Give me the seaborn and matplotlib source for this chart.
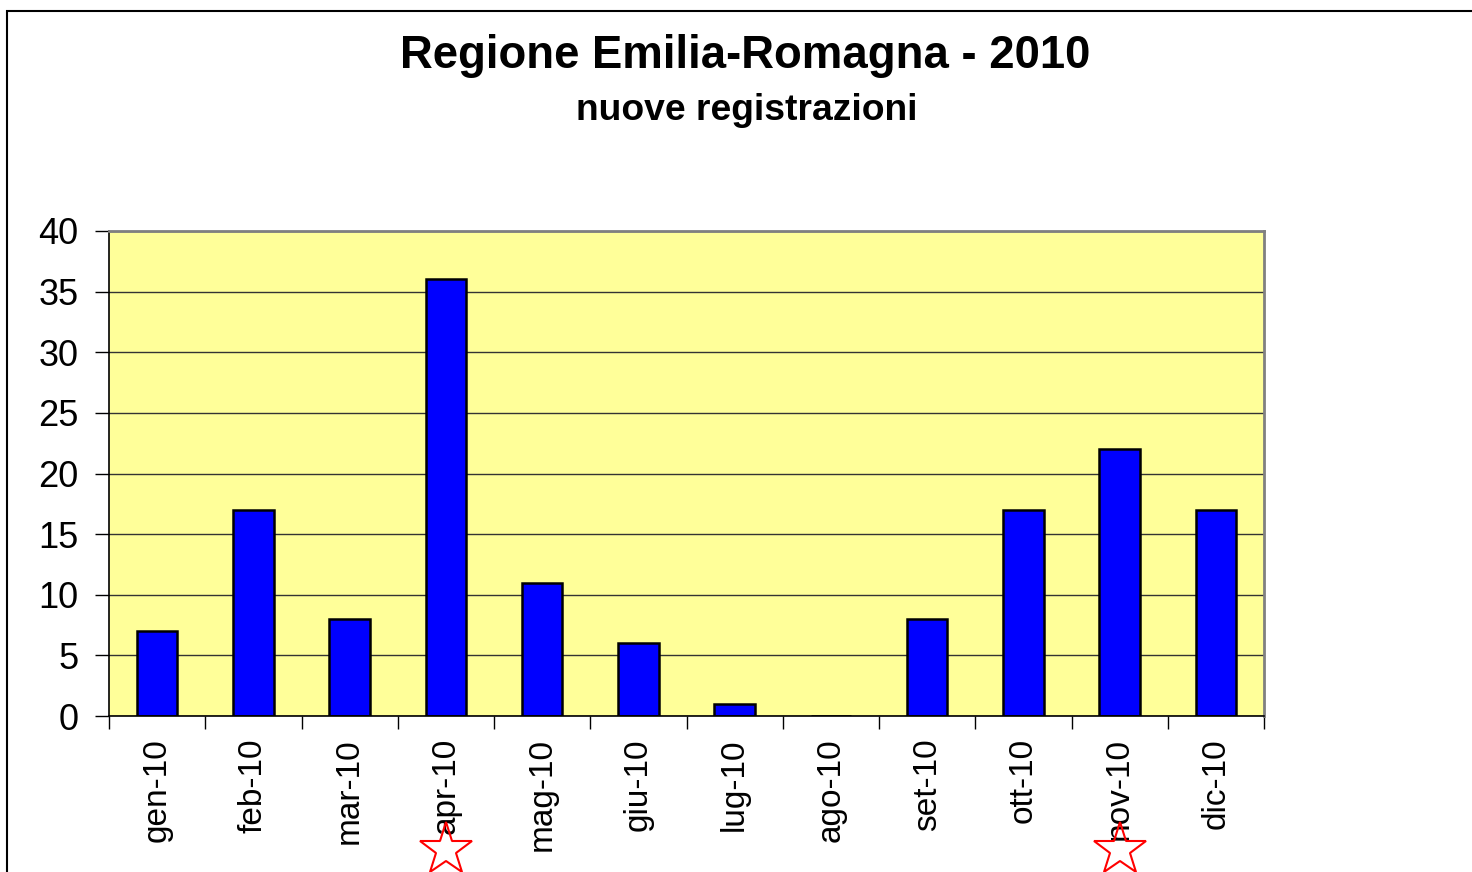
import matplotlib
matplotlib.use("Agg")
import matplotlib.pyplot as plt
import seaborn as sns
import pandas as pd
from matplotlib.patches import Rectangle
from matplotlib.transforms import blended_transform_factory

months = ["gen-10", "feb-10", "mar-10", "apr-10", "mag-10", "giu-10",
          "lug-10", "ago-10", "set-10", "ott-10", "nov-10", "dic-10"]
values = [7, 17, 8, 36, 11, 6, 1, 0, 8, 17, 22, 17]
y_ticks = [0, 5, 10, 15, 20, 25, 30, 35, 40]
starred = ["apr-10", "nov-10"]
title = "Regione Emilia-Romagna - 2010"
subtitle = "nuove registrazioni"

sns.set_theme(style="white")
plt.rcParams["font.family"] = ["Liberation Sans", "DejaVu Sans"]
plt.rcParams["text.color"] = "black"
plt.rcParams["xtick.color"] = "black"
plt.rcParams["ytick.color"] = "black"

fig = plt.figure(figsize=(14.72, 8.72), dpi=100)
ax = fig.add_axes([109/1472, 1-716/872, (1264-109)/1472, (716-231)/872])
ax.set_facecolor("#FFFF99")

df = pd.DataFrame({"mese": months, "n": values})
sns.barplot(data=df, x="mese", y="n", ax=ax, color="#0000FF",
            edgecolor="black", linewidth=1.8, width=0.42, saturation=1)

ax.set_ylim(0, 40)
ax.set_xlim(-0.5, len(months) - 0.5)
ax.set_yticks(y_ticks)
ax.set_yticklabels([str(t) for t in y_ticks], fontsize=26)
ax.yaxis.grid(True, color="#333333", linewidth=1.0)
ax.set_axisbelow(True)
ax.set_xlabel("")
ax.set_ylabel("")

# x ticks at category boundaries, labels at centres
ax.set_xticks([i for i in range(len(months))])
ax.set_xticklabels(months, rotation=90, fontsize=24)
ax.tick_params(axis="x", length=0, pad=16)
ax.set_xticks([i - 0.5 for i in range(len(months) + 1)], minor=True)
ax.tick_params(axis="x", which="minor", length=9, width=1, color="black", direction="out", bottom=True)
ax.tick_params(axis="y", length=10, width=1, color="black", direction="out", left=True, pad=12)

for s in ["top", "right"]:
    ax.spines[s].set_color("#808080")
    ax.spines[s].set_linewidth(2)
for s in ["left", "bottom"]:
    ax.spines[s].set_color("black")
    ax.spines[s].set_linewidth(1.2)

# stars below the tick labels
trans = blended_transform_factory(ax.transData, ax.transAxes)
for m in starred:
    ax.plot([months.index(m)], [-0.276], marker="*", markersize=40,
            markerfacecolor="none", markeredgecolor="red", markeredgewidth=1.5,
            transform=trans, clip_on=False, linestyle="none")

fig.text(745/1472, 1-56/872, title, ha="center", va="center",
         fontsize=32.8, fontweight="bold", color="black")
fig.text(747/1472, 1-110/872, subtitle, ha="center", va="center",
         fontsize=26.8, fontweight="bold", color="black")

# outer chart frame
fig.patches.append(Rectangle((7/1472, -0.2), 1.2, 1.2 - 11/872,
                             transform=fig.transFigure, fill=False,
                             edgecolor="black", linewidth=1.5))

fig.savefig("out.png", dpi=100)
